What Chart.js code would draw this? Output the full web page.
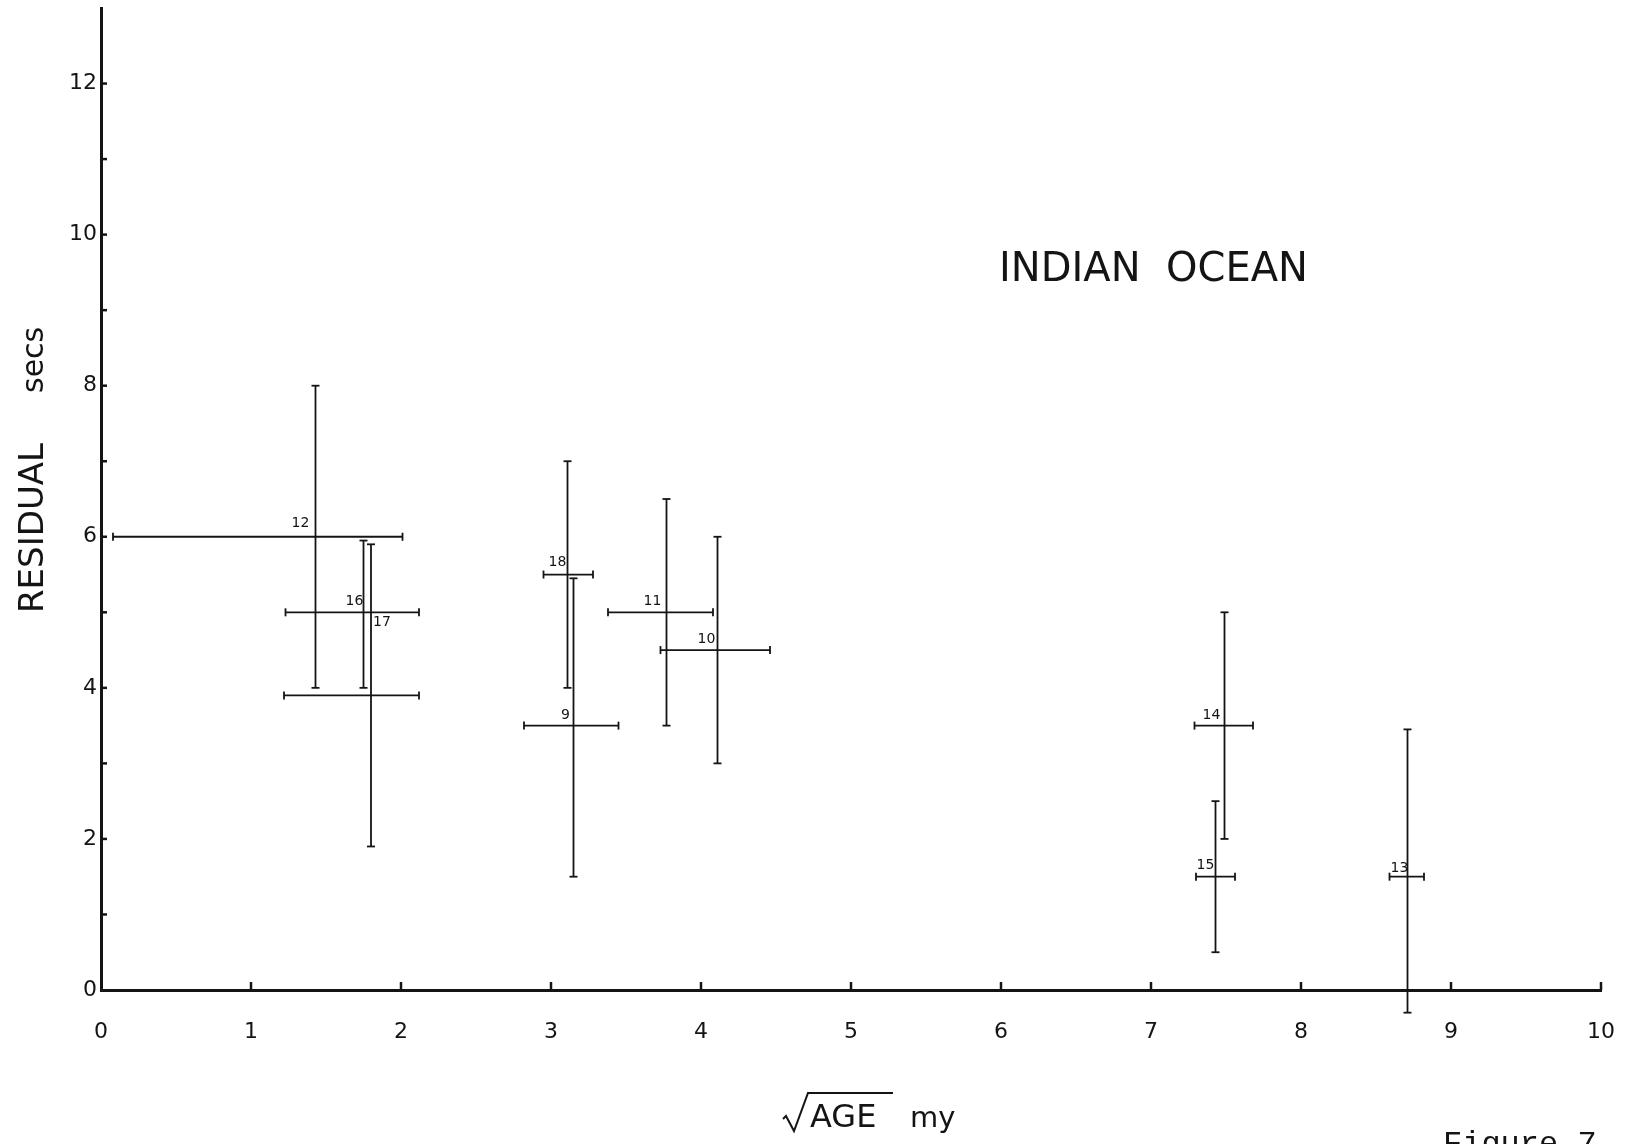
<!DOCTYPE html>
<html lang="en">
<head>
    <meta charset="UTF-8">
    <title>Indian Ocean residuals</title>
    <script src="https://cdn.jsdelivr.net/npm/chart.js"></script>
    <style>
        body {
            margin: 0;
            background: #ffffff;
            overflow: hidden;
        }
        #wrap {
            width: 1625px;
            height: 1144px;
        }
    </style>
</head>
<body>
    <div id="wrap">
        <canvas id="residChart" width="1625" height="1144"></canvas>
    </div>

    <script>
        // station numbers
        const stations  = ['12', '16', '17', '18', '9', '11', '10', '14', '15', '13'];
        // sqrt(age) in my^(1/2): centre, lower and upper end of the horizontal bar
        const sqrtAge   = [1.43, 1.75, 1.80, 3.11, 3.15, 3.77, 4.11, 7.49, 7.43, 8.71];
        const ageLow    = [0.08, 1.23, 1.22, 2.95, 2.82, 3.38, 3.73, 7.29, 7.30, 8.59];
        const ageHigh   = [2.01, 2.12, 2.12, 3.28, 3.45, 4.08, 4.46, 7.68, 7.56, 8.82];
        // residual in secs: centre, lower and upper end of the vertical bar
        const residual  = [6.0, 5.0, 3.9, 5.5, 3.5, 5.0, 4.5, 3.5, 1.5, 1.5];
        const residLow  = [4.0, 4.0, 1.9, 4.0, 1.5, 3.5, 3.0, 2.0, 0.5, -0.3];
        const residHigh = [8.0, 5.95, 5.9, 7.0, 5.45, 6.5, 6.0, 5.0, 2.5, 3.45];

        const xTicks = [0, 1, 2, 3, 4, 5, 6, 7, 8, 9, 10];
        const yTicks = [0, 1, 2, 3, 4, 5, 6, 7, 8, 9, 10, 11, 12];

        // where each station number sits relative to its crossing (px)
        const labelOffset = [[-15, -13], [-9, -11], [11, -73], [-10, -12], [-8, -10],
                             [-14, -11], [-11, -11], [-13, -10], [-10, -11], [-8, -8]];

        const ink = '#141414';
        const tickFont = { family: "'DejaVu Sans', sans-serif", size: 22 };

        function seg(ctx, x1, y1, x2, y2) {
            ctx.beginPath();
            ctx.moveTo(x1, y1);
            ctx.lineTo(x2, y2);
            ctx.stroke();
        }

        const errorBars = {
            id: 'errorBars',
            afterDatasetsDraw(chart) {
                const { ctx, scales: { x, y } } = chart;
                ctx.save();
                ctx.strokeStyle = ink;
                ctx.fillStyle = ink;
                ctx.lineCap = 'butt';

                // tick marks point into the plot
                ctx.lineWidth = 2.5;
                yTicks.forEach(v => {
                    if (v === 0) return;
                    const py = y.getPixelForValue(v);
                    seg(ctx, x.left, py, x.left + 6, py);
                });
                xTicks.forEach(v => {
                    if (v === 0) return;
                    const px = x.getPixelForValue(v);
                    seg(ctx, px, y.bottom, px, y.bottom - 8);
                });

                const cap = 4;
                ctx.lineWidth = 1.8;
                ctx.font = "14px 'DejaVu Sans', sans-serif";
                ctx.textAlign = 'center';
                ctx.textBaseline = 'middle';
                stations.forEach((name, i) => {
                    const cx = x.getPixelForValue(sqrtAge[i]);
                    const cy = y.getPixelForValue(residual[i]);
                    const x1 = x.getPixelForValue(ageLow[i]);
                    const x2 = x.getPixelForValue(ageHigh[i]);
                    const y1 = y.getPixelForValue(residLow[i]);
                    const y2 = y.getPixelForValue(residHigh[i]);

                    seg(ctx, x1, cy, x2, cy);
                    seg(ctx, x1, cy - cap, x1, cy + cap);
                    seg(ctx, x2, cy - cap, x2, cy + cap);

                    seg(ctx, cx, y1, cx, y2);
                    seg(ctx, cx - cap, y1, cx + cap, y1);
                    seg(ctx, cx - cap, y2, cx + cap, y2);

                    ctx.fillText(name, cx + labelOffset[i][0], cy + labelOffset[i][1]);
                });
                ctx.restore();
            }
        };

        const annotations = {
            id: 'annotations',
            afterDraw(chart) {
                const ctx = chart.ctx;
                ctx.save();
                ctx.fillStyle = ink;
                ctx.strokeStyle = ink;

                // panel title
                ctx.font = "40px 'DejaVu Sans', sans-serif";
                ctx.textAlign = 'left';
                ctx.textBaseline = 'alphabetic';
                ctx.fillText('INDIAN  OCEAN', 999, 281);

                // y axis title
                ctx.save();
                ctx.translate(43, 613);
                ctx.rotate(-Math.PI / 2);
                ctx.font = "34px 'DejaVu Sans', sans-serif";
                ctx.fillText('RESIDUAL', 0, 0);
                ctx.font = "30px 'DejaVu Sans', sans-serif";
                ctx.fillText('secs', 220, 0);
                ctx.restore();

                // x axis title: radical sign drawn as a path
                ctx.lineWidth = 2;
                ctx.beginPath();
                ctx.moveTo(783, 1119);
                ctx.lineTo(786, 1116);
                ctx.lineTo(794, 1131);
                ctx.lineTo(808, 1093);
                ctx.lineTo(893, 1093);
                ctx.stroke();
                ctx.font = "32px 'DejaVu Sans', sans-serif";
                ctx.fillText('AGE', 810, 1127);
                ctx.font = "29px 'DejaVu Sans', sans-serif";
                ctx.fillText('my', 910, 1127);

                // caption, cut by the page edge as in the scan
                ctx.font = "32px 'Liberation Mono', monospace";
                ctx.fillText('Figure 7', 1443, 1153);
                ctx.restore();
            }
        };

        new Chart(document.getElementById('residChart'), {
            type: 'scatter',
            data: {
                datasets: [{
                    data: sqrtAge.map((v, i) => ({ x: v, y: residual[i] })),
                    pointRadius: 0,
                    showLine: false
                }]
            },
            options: {
                responsive: false,
                animation: false,
                layout: { padding: { top: 8, right: 24, left: 0, bottom: 0 } },
                plugins: {
                    legend: { display: false },
                    tooltip: { enabled: false }
                },
                scales: {
                    x: {
                        type: 'linear',
                        min: 0,
                        max: 10,
                        afterBuildTicks: s => { s.ticks = xTicks.map(v => ({ value: v })); },
                        afterFit: s => {
                            s.height = 154;
                            s.paddingLeft = 0;
                            s.paddingRight = 0;
                        },
                        grid: { display: false, drawTicks: false },
                        border: { display: true, width: 3, color: ink },
                        ticks: { font: tickFont, color: ink, padding: 29, maxRotation: 0 }
                    },
                    y: {
                        type: 'linear',
                        min: 0,
                        max: 13,
                        afterBuildTicks: s => { s.ticks = yTicks.map(v => ({ value: v })); },
                        afterFit: s => {
                            s.width = 101;
                            s.paddingTop = 0;
                            s.paddingBottom = 0;
                        },
                        grid: { display: false, drawTicks: false },
                        border: { display: true, width: 3, color: ink },
                        ticks: {
                            font: tickFont,
                            color: ink,
                            padding: 4,
                            callback: v => (v % 2 === 0 ? String(v) : '')
                        }
                    }
                }
            },
            plugins: [errorBars, annotations]
        });
    </script>
</body>
</html>
